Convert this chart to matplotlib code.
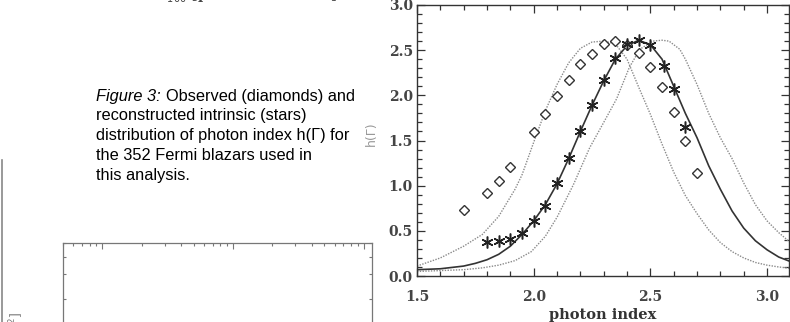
import matplotlib
matplotlib.use("Agg")
import matplotlib.pyplot as plt
from matplotlib.lines import Line2D
from matplotlib.ticker import MultipleLocator, NullFormatter

W, H = 790, 322

# observed distribution h(Gamma) (diamonds)
obs_index = [1.70, 1.80, 1.85, 1.90, 2.00, 2.05, 2.10, 2.15, 2.20, 2.25,
             2.30, 2.35, 2.40, 2.45, 2.50, 2.55, 2.60, 2.65, 2.70]
obs_h = [0.73, 0.92, 1.05, 1.21, 1.59, 1.79, 1.99, 2.17, 2.35, 2.46,
         2.57, 2.60, 2.56, 2.47, 2.31, 2.09, 1.81, 1.50, 1.14]

# reconstructed intrinsic distribution (stars)
int_index = [1.80, 1.85, 1.90, 1.95, 2.00, 2.05, 2.10, 2.15, 2.20, 2.25,
             2.30, 2.35, 2.40, 2.45, 2.50, 2.56, 2.60, 2.65]
int_h = [0.38, 0.39, 0.41, 0.48, 0.61, 0.78, 1.03, 1.31, 1.61, 1.89,
         2.17, 2.41, 2.57, 2.61, 2.56, 2.33, 2.07, 1.65]

# best-fit intrinsic curve (solid)
fit_x = [1.50, 1.60, 1.70, 1.75, 1.80, 1.85, 1.90, 1.95, 2.00, 2.05, 2.10,
         2.15, 2.20, 2.25, 2.30, 2.35, 2.40, 2.45, 2.50, 2.55, 2.60, 2.65,
         2.70, 2.75, 2.80, 2.85, 2.90, 2.95, 3.00, 3.05, 3.10]
fit_y = [0.07, 0.08, 0.11, 0.14, 0.18, 0.24, 0.33, 0.46, 0.61, 0.79, 1.02,
         1.30, 1.60, 1.89, 2.16, 2.40, 2.55, 2.61, 2.56, 2.40, 2.10, 1.80,
         1.53, 1.22, 0.96, 0.72, 0.53, 0.39, 0.29, 0.21, 0.16]

# dotted envelopes (lower / upper index)
lo_x = [1.50, 1.60, 1.70, 1.78, 1.85, 1.92, 1.95, 2.00, 2.05, 2.10, 2.15,
        2.20, 2.25, 2.30, 2.35, 2.40, 2.45, 2.50, 2.55, 2.60, 2.65, 2.70,
        2.75, 2.80, 2.85, 2.90, 2.95, 3.00, 3.05, 3.10]
lo_y = [0.11, 0.20, 0.33, 0.46, 0.66, 0.96, 1.12, 1.48, 1.83, 2.12, 2.36,
        2.52, 2.59, 2.60, 2.57, 2.40, 2.09, 1.79, 1.46, 1.15, 0.89, 0.69,
        0.51, 0.37, 0.27, 0.20, 0.15, 0.12, 0.10, 0.085]
hi_x = [1.50, 1.60, 1.70, 1.78, 1.85, 1.92, 1.99, 2.05, 2.10, 2.17, 2.24,
        2.30, 2.355, 2.41, 2.455, 2.51, 2.55, 2.58, 2.626, 2.65, 2.70, 2.75,
        2.80, 2.85, 2.90, 2.95, 3.00, 3.05, 3.10]
hi_y = [0.05, 0.06, 0.07, 0.09, 0.12, 0.17, 0.27, 0.44, 0.65, 1.01, 1.42,
        1.70, 1.96, 2.31, 2.51, 2.60, 2.61, 2.60, 2.51, 2.40, 2.12, 1.80,
        1.53, 1.30, 1.03, 0.79, 0.61, 0.48, 0.37]

caption_lines = ["reconstructed intrinsic (stars)",
                 "distribution of photon index h(\u0393) for",
                 "the 352 Fermi blazars used in",
                 "this analysis."]


def box(x0, y0, x1, y1):
    # pixel box (top-left origin) -> figure fraction rect
    return [x0 / W, 1 - y1 / H, (x1 - x0) / W, (y1 - y0) / H]


fig = plt.figure(figsize=(W / 100, H / 100), dpi=100)

# ---- main panel: h(Gamma) ----
ax = fig.add_axes(box(417, 5, 789, 276))
ax.plot(lo_x, lo_y, color="#8a8a8a", lw=1.0, ls=(0, (1, 1)))
ax.plot(hi_x, hi_y, color="#8a8a8a", lw=1.0, ls=(0, (1, 1)))
ax.plot(fit_x, fit_y, color="#333333", lw=1.2)
ax.plot(obs_index, obs_h, ls="none", marker="D", ms=4.8, mfc="white",
        mec="#333333", mew=1.0)
ax.plot(int_index, int_h, ls="none", marker=(6, 2, 0), ms=8.5,
        color="#222222", mew=1.1)

ax.set_xlim(1.5, 3.094)
ax.set_ylim(0, 3.0)
ax.xaxis.set_major_locator(MultipleLocator(0.5))
ax.xaxis.set_minor_locator(MultipleLocator(0.1))
ax.yaxis.set_major_locator(MultipleLocator(0.5))
ax.yaxis.set_minor_locator(MultipleLocator(0.1))
ax.xaxis.set_major_formatter(plt.FuncFormatter(lambda v, p: f"{v:.1f}"))
ax.yaxis.set_major_formatter(plt.FuncFormatter(lambda v, p: f"{v:.1f}"))
ax.tick_params(which="both", direction="in", top=True, right=True,
               color="#333333", width=0.9)
ax.tick_params(which="major", length=6)
ax.tick_params(which="minor", length=3.5)
ax.tick_params(axis="x", pad=10)
ax.tick_params(axis="y", pad=3)
for lab in ax.get_xticklabels() + ax.get_yticklabels():
    lab.set_family("DejaVu Serif")
    lab.set_fontsize(10)
    lab.set_fontweight("bold")
    lab.set_color("#444444")
for sp in ax.spines.values():
    sp.set_color("#333333")
    sp.set_linewidth(1.0)
ax.set_xlabel("photon index", family="DejaVu Serif", fontsize=10.5,
              fontweight="bold", color="#333333", labelpad=3)
fig.text(371 / W, 1 - 134 / H, "h(\u0393)", rotation=90, ha="center",
         va="center", fontsize=9, color="#999999", family="DejaVu Sans")

# ---- caption ----
cap_kw = dict(family="Liberation Sans", fontsize=11.8, color="black",
              va="center", ha="left")
fig.text(96 / W, 1 - 96 / H, "Figure 3:", style="italic", **cap_kw)
fig.text(166 / W, 1 - 96 / H, "Observed (diamonds) and", **cap_kw)
for i, line in enumerate(caption_lines):
    fig.text(96 / W, 1 - (115.5 + 20 * i) / H, line, **cap_kw)

# clipped axis title from the panel above
fig.text(247 / W, 1 - (-5) / H,
         "F$_{100}$ [photons cm$^{-2}$ s$^{-1}$]", ha="center", va="center",
         family="DejaVu Serif", fontsize=10, fontweight="bold",
         color="#444444")

# ---- lower-left panel (only its top shows) ----
ax2 = fig.add_axes(box(63, 243, 372, 500))
ax2.set_xscale("log")
ax2.set_yscale("log")
ax2.set_xlim(5e-10, 1.16e-7)
ax2.set_ylim(7.26, 500)
ax2.tick_params(which="both", direction="in", top=True, right=True,
                color="#777777", width=0.8, labelbottom=False,
                labelleft=False)
ax2.tick_params(which="major", length=4)
ax2.tick_params(which="minor", length=2.5)
ax2.xaxis.set_minor_formatter(NullFormatter())
ax2.yaxis.set_minor_formatter(NullFormatter())
for sp in ax2.spines.values():
    sp.set_color("#777777")
    sp.set_linewidth(0.9)
fig.text(17 / W, 1 - 312 / H, "N(>F$_{100}$) [deg$^{-2}$]", rotation=90,
         ha="center", va="top", family="DejaVu Serif", fontsize=9,
         color="#777777")

# page edge line on the far left
fig.add_artist(Line2D([2 / W, 2 / W], [0, 1 - 160 / H], color="#888888",
                      lw=1.2))

fig.savefig("out.png", dpi=100)
